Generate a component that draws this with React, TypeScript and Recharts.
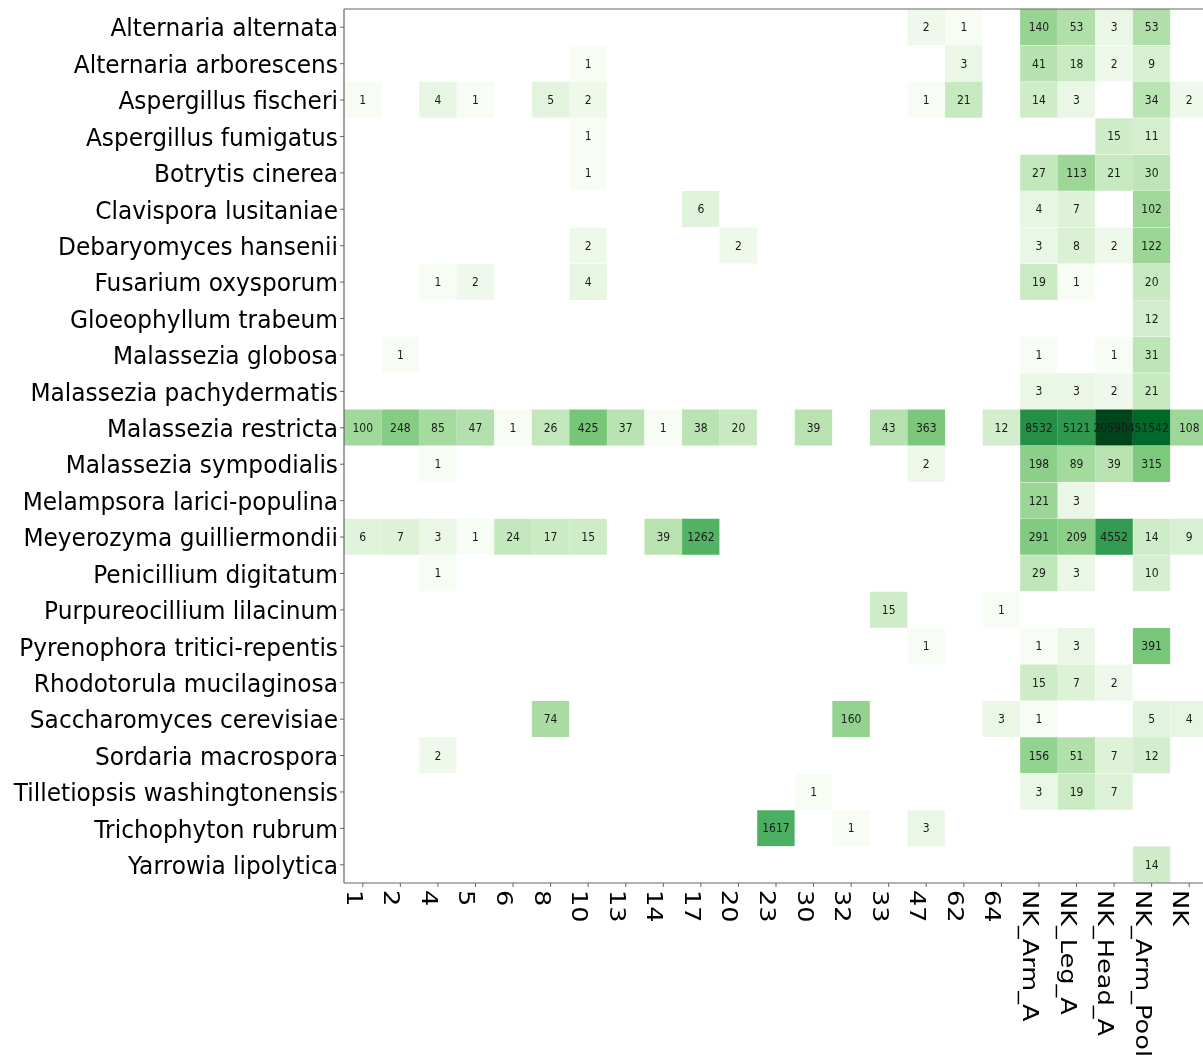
import React from "react";
import { BarChart, Bar, XAxis, YAxis, Cell, LabelList, ReferenceLine } from "recharts";

const species: string[] = [
  "Alternaria alternata",
  "Alternaria arborescens",
  "Aspergillus fischeri",
  "Aspergillus fumigatus",
  "Botrytis cinerea",
  "Clavispora lusitaniae",
  "Debaryomyces hansenii",
  "Fusarium oxysporum",
  "Gloeophyllum trabeum",
  "Malassezia globosa",
  "Malassezia pachydermatis",
  "Malassezia restricta",
  "Malassezia sympodialis",
  "Melampsora larici-populina",
  "Meyerozyma guilliermondii",
  "Penicillium digitatum",
  "Purpureocillium lilacinum",
  "Pyrenophora tritici-repentis",
  "Rhodotorula mucilaginosa",
  "Saccharomyces cerevisiae",
  "Sordaria macrospora",
  "Tilletiopsis washingtonensis",
  "Trichophyton rubrum",
  "Yarrowia lipolytica",
];

const samples: string[] = [
  "1", "2", "4", "5", "6", "8", "10", "13", "14", "17", "20", "23", "30", "32", "33", "47", "62", "64",
  "NK_Arm_A", "NK_Leg_A", "NK_Head_A", "NK_Arm_Pool", "NK",
];

const _ = null;
// one row per species, one entry per sample (null = no reads)
const counts: (number | null)[][] = [
  // 1  2   4   5   6   8   10  13  14  17    20  23    30  32   33  47   62  64  ArmA  LegA  HeadA   Pool   NK
  [_, _, _, _, _, _, _, _, _, _, _, _, _, _, _, 2, 1, _, 140, 53, 3, 53, _],
  [_, _, _, _, _, _, 1, _, _, _, _, _, _, _, _, _, 3, _, 41, 18, 2, 9, _],
  [1, _, 4, 1, _, 5, 2, _, _, _, _, _, _, _, _, 1, 21, _, 14, 3, _, 34, 2],
  [_, _, _, _, _, _, 1, _, _, _, _, _, _, _, _, _, _, _, _, _, 15, 11, _],
  [_, _, _, _, _, _, 1, _, _, _, _, _, _, _, _, _, _, _, 27, 113, 21, 30, _],
  [_, _, _, _, _, _, _, _, _, 6, _, _, _, _, _, _, _, _, 4, 7, _, 102, _],
  [_, _, _, _, _, _, 2, _, _, _, 2, _, _, _, _, _, _, _, 3, 8, 2, 122, _],
  [_, _, 1, 2, _, _, 4, _, _, _, _, _, _, _, _, _, _, _, 19, 1, _, 20, _],
  [_, _, _, _, _, _, _, _, _, _, _, _, _, _, _, _, _, _, _, _, _, 12, _],
  [_, 1, _, _, _, _, _, _, _, _, _, _, _, _, _, _, _, _, 1, _, 1, 31, _],
  [_, _, _, _, _, _, _, _, _, _, _, _, _, _, _, _, _, _, 3, 3, 2, 21, _],
  [100, 248, 85, 47, 1, 26, 425, 37, 1, 38, 20, _, 39, _, 43, 363, _, 12, 8532, 5121, 205904, 51542, 108],
  [_, _, 1, _, _, _, _, _, _, _, _, _, _, _, _, 2, _, _, 198, 89, 39, 315, _],
  [_, _, _, _, _, _, _, _, _, _, _, _, _, _, _, _, _, _, 121, 3, _, _, _],
  [6, 7, 3, 1, 24, 17, 15, _, 39, 1262, _, _, _, _, _, _, _, _, 291, 209, 4552, 14, 9],
  [_, _, 1, _, _, _, _, _, _, _, _, _, _, _, _, _, _, _, 29, 3, _, 10, _],
  [_, _, _, _, _, _, _, _, _, _, _, _, _, _, 15, _, _, 1, _, _, _, _, _],
  [_, _, _, _, _, _, _, _, _, _, _, _, _, _, _, 1, _, _, 1, 3, _, 391, _],
  [_, _, _, _, _, _, _, _, _, _, _, _, _, _, _, _, _, _, 15, 7, 2, _, _],
  [_, _, _, _, _, 74, _, _, _, _, _, _, _, 160, _, _, _, 3, 1, _, _, 5, 4],
  [_, _, 2, _, _, _, _, _, _, _, _, _, _, _, _, _, _, _, 156, 51, 7, 12, _],
  [_, _, _, _, _, _, _, _, _, _, _, _, 1, _, _, _, _, _, 3, 19, 7, _, _],
  [_, _, _, _, _, _, _, _, _, _, _, 1617, _, 1, _, 3, _, _, _, _, _, _, _],
  [_, _, _, _, _, _, _, _, _, _, _, _, _, _, _, _, _, _, _, _, _, 14, _],
];

const GREENS = ["#f7fcf5", "#e5f5e0", "#c7e9c0", "#a1d99b", "#74c476", "#41ab5d", "#238b45", "#006d2c", "#00441b"];

function hex(c: string): number[] {
  return [1, 3, 5].map((i) => parseInt(c.slice(i, i + 2), 16));
}

function greens(t: number): string {
  const tt = Math.max(0, Math.min(1, t)) * (GREENS.length - 1);
  const i = Math.min(GREENS.length - 2, Math.floor(tt));
  const f = tt - i;
  const a = hex(GREENS[i]);
  const b = hex(GREENS[i + 1]);
  const m = a.map((v, k) => Math.round(v + (b[k] - v) * f));
  return `rgb(${m[0]},${m[1]},${m[2]})`;
}

const vmax = Math.max(...counts.flat().map((v) => (v == null ? 0 : v)));
function colorFor(v: number | null): string {
  if (v == null) return "#ffffff";
  return greens(Math.log10(v) / Math.log10(vmax));
}

const tableData = species.map((s) => {
  const row: Record<string, any> = { species: s };
  samples.forEach((_s, j) => {
    row[`c${j}`] = 1;
  });
  return row;
});

const xTicks = samples.map((_s, j) => j + 0.5);

const FONT = "'DejaVu Sans', sans-serif";

const YTick = (props: any) => {
  const { x, y, payload } = props;
  return (
    <text
      x={x}
      y={y}
      dy="0.36em"
      textAnchor="end"
      fontFamily={FONT}
      fontSize={23.3}
      fill="#000"
      transform={`translate(${x},${y}) scale(1,1.1) translate(${-x},${-y})`}
    >
      {payload.value}
    </text>
  );
};

const XTick = (props: any) => {
  const { x, y, payload } = props;
  const idx = Math.round(payload.value - 0.5);
  const label = samples[idx] ?? "";
  return (
    <text
      x={0}
      y={0}
      textAnchor="start"
      fontFamily={FONT}
      fontSize={21}
      fill="#000"
      transform={`translate(${x - 16},${y + 1}) rotate(90) scale(1.22,1)`}
    >
      {label}
    </text>
  );
};

function makeLabel(j: number) {
  return (props: any) => {
    const { x, y, width, height, index } = props;
    const v = counts[index]?.[j];
    if (v == null) return null;
    const cx = Number(x) + Number(width) / 2;
    const cy = Number(y) + Number(height) / 2;
    return (
      <text
        x={cx}
        y={cy}
        dy="0.36em"
        textAnchor="middle"
        fontFamily={FONT}
        fontSize={10.8}
        fill="#1a1a1a"
        transform={`translate(${cx},${cy}) scale(1,1.08) translate(${-cx},${-cy})`}
      >
        {v}
      </text>
    );
  };
}

export default function App() {
  return (
    <div style={{ position: "fixed", left: 8, top: 8, width: 1195, height: 1048, overflow: "hidden" }}>
      <BarChart
        width={1200}
        height={1048}
        data={tableData}
        layout="vertical"
        barCategoryGap={0}
        barGap={0}
        margin={{ top: 1, right: 0, bottom: 0, left: 0 }}
      >
        <XAxis
          type="number"
          domain={[0, samples.length]}
          ticks={xTicks}
          interval={0}
          allowDataOverflow
          height={173}
          tick={<XTick />}
          tickSize={4}
          tickMargin={2}
          axisLine={{ stroke: "#666", strokeWidth: 1.2 }}
          tickLine={{ stroke: "#666" }}
        />
        <YAxis
          type="category"
          dataKey="species"
          width={336}
          interval={0}
          tick={<YTick />}
          tickSize={4}
          tickMargin={2}
          axisLine={{ stroke: "#666", strokeWidth: 1.2 }}
          tickLine={{ stroke: "#666" }}
        />
        {samples.map((s, j) => (
          <Bar key={s} dataKey={`c${j}`} stackId="heat" isAnimationActive={false}>
            {species.map((sp, i) => (
              <Cell key={sp} fill={colorFor(counts[i][j])} />
            ))}
            <LabelList dataKey={`c${j}`} content={makeLabel(j)} />
          </Bar>
        ))}
        <ReferenceLine y={species[0]} position="start" stroke="#666" strokeWidth={1.2} ifOverflow="visible" />
      </BarChart>
    </div>
  );
}
